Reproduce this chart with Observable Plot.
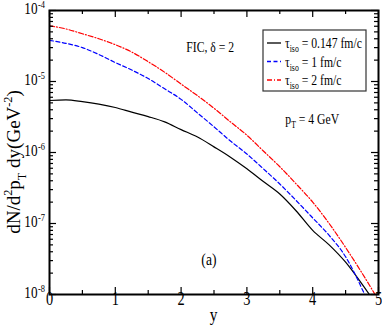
<!DOCTYPE html>
<html><head><meta charset="utf-8">
<script src="https://cdn.jsdelivr.net/npm/d3@7"></script>
<script src="https://cdn.jsdelivr.net/npm/@observablehq/plot@0.6"></script>
<style>body{margin:0;background:#fff}</style>
</head><body><div id="chart"></div>
<script>
// rapidity y
const rapidity = [0,0.25,0.5,0.75,1,1.25,1.5,1.75,2,2.25,2.5,2.75,3,3.25,3.5,3.75,4,4.25,4.5,4.75,5];
// dN/d2pT dy (GeV^-2)
const tau0147 = [5.4e-6,5.5e-6,5.2e-6,4.8e-6,4.3e-6,3.7e-6,3.2e-6,2.7e-6,2.1e-6,1.65e-6,1.2e-6,8.6e-7,5.9e-7,3.9e-7,2.6e-7,1.5e-7,8.0e-8,5.0e-8,2.85e-8,1.4e-8,6.5e-9];
const tau1    = [3.8e-5,3.45e-5,3.0e-5,2.4e-5,1.85e-5,1.45e-5,1.1e-5,7.9e-6,5.6e-6,3.6e-6,2.3e-6,1.45e-6,9.5e-7,5.9e-7,3.6e-7,2.1e-7,1.2e-7,6.8e-8,3.4e-8,1.2e-8,3.5e-9];
const tau2    = [6.1e-5,5.5e-5,4.7e-5,4.0e-5,3.3e-5,2.6e-5,1.9e-5,1.35e-5,9.2e-6,6.3e-6,4.2e-6,2.7e-6,1.75e-6,1.05e-6,6.3e-7,3.6e-7,2.0e-7,1.0e-7,4.6e-8,2.0e-8,8.3e-9];
const seriesLabels = ["0.147 fm/c", "1 fm/c", "2 fm/c"];
const xTicks = [0,1,2,3,4,5];
const xMinor = [0.5,1.5,2.5,3.5,4.5];
const yDecades = [1e-8,1e-7,1e-6,1e-5,1e-4];
const yMinor = yDecades.slice(0,-1).flatMap(d => [2,3,4,5,6,7,8,9].map(k => k*d));

const colors = ["#000000", "#0000ff", "#ff0000"];
const dashes = [null, "4,2.5", "5,2,1,2"];
const series = [tau0147, tau1, tau2];
const rows = series.map(vals => rapidity.map((y, i) => ({y, v: vals[i]})));

const W = 382, H = 327, ML = 49, MR = 4, MT = 10, MB = 33;
const FW = W - ML - MR, FH = H - MT - MB;
const SX = 0.8;

const chart = Plot.plot({
  width: W, height: H, marginLeft: ML, marginRight: MR, marginTop: MT, marginBottom: MB,
  style: {fontFamily: "Liberation Serif", background: "white", color: "black"},
  x: {domain: [0, 5], axis: null},
  y: {type: "log", domain: [1e-8, 1e-4], axis: null},
  marks: [
    ...rows.map((r, i) => Plot.line(r, {x: "y", y: "v", stroke: colors[i], strokeWidth: 1.2,
      strokeDasharray: dashes[i] || undefined, curve: "monotone-x", clip: true})),
    // ticks (inward, all four sides)
    Plot.ruleX(xTicks, {x: d => d, insetTop: FH - 7, strokeWidth: 1.2}),
    Plot.ruleX(xTicks, {x: d => d, insetBottom: FH - 7, strokeWidth: 1.2}),
    Plot.ruleX(xMinor, {x: d => d, insetTop: FH - 4, strokeWidth: 1.2}),
    Plot.ruleX(xMinor, {x: d => d, insetBottom: FH - 4, strokeWidth: 1.2}),
    Plot.ruleY(yDecades, {y: d => d, insetRight: FW - 7, strokeWidth: 1.2}),
    Plot.ruleY(yDecades, {y: d => d, insetLeft: FW - 7, strokeWidth: 1.2}),
    Plot.ruleY(yMinor, {y: d => d, insetRight: FW - 4, strokeWidth: 1.2}),
    Plot.ruleY(yMinor, {y: d => d, insetLeft: FW - 4, strokeWidth: 1.2}),
    Plot.frame({stroke: "black", strokeWidth: 2}),
    // tick labels
    Plot.text(xTicks, {x: d => d, frameAnchor: "bottom", dy: 10, text: d => String(d), fontSize: 18, lineAnchor: "middle"}),
    Plot.text(yDecades, {y: d => d, frameAnchor: "left", dx: -12, dy: 3.5, text: () => "10", fontSize: 16.5, textAnchor: "end", lineAnchor: "middle"}),
    Plot.text(yDecades, {y: d => d, frameAnchor: "left", dx: -11.5, dy: -2.5, text: d => "-" + Math.round(-Math.log10(d)), fontSize: 10.5, textAnchor: "start", lineAnchor: "middle"})
  ]
});

// narrow glyphs like the reference (tick labels)
chart.querySelectorAll("text").forEach(t => {
  const tr = t.getAttribute("transform") || "";
  if (t.hasAttribute("x") || t.hasAttribute("y")) {
    const x = +t.getAttribute("x") || 0, y = +t.getAttribute("y") || 0;
    t.removeAttribute("x"); t.removeAttribute("y");
    t.setAttribute("transform", `${tr} translate(${x},${y}) scale(${SX},1)`);
  } else {
    t.setAttribute("transform", `${tr} scale(${SX},1)`);
  }
});

document.getElementById("chart").appendChild(chart);

// annotations, titles and legend placed with the chart's own scales
const sx = chart.scale("x"), sy = chart.scale("y");
const svg = d3.select(chart);
const ann = svg.append("g").attr("font-family", "Liberation Serif").attr("fill", "black");

function richText(g, x, y, parts, size, scaleX, rotate, anchor = "middle") {
  const t = g.append("text")
    .attr("transform", `translate(${x},${y})${rotate ? ` rotate(${rotate})` : ""} scale(${scaleX},1)`)
    .attr("font-size", size).attr("text-anchor", anchor);
  let shift = 0;
  for (const [s, kind] of parts) {
    let target = 0, fs = size;
    if (kind === "sup") { target = -0.42 * size; fs = 0.65 * size; }
    if (kind === "sub") { target = 0.3 * size; fs = 0.65 * size; }
    t.append("tspan").attr("font-size", fs.toFixed(1)).attr("dy", (target - shift).toFixed(2)).text(s);
    shift = target;
  }
  return t;
}

// axis titles
richText(ann, sx.apply(2.5), 321, [["y", null]], 18, 0.85);
const yTitle = richText(ann, 20, 162, [["dN/d", null], ["2", "sup"], ["p", null], ["T", "sub"], [" dy(GeV", null], ["-2", "sup"], [")", null]], 19, 1, -90);
{
  const natural = yTitle.node().getBBox().width;
  const k = natural > 0 ? Math.min(1, 156 / natural) : 0.78;
  yTitle.attr("transform", `translate(20,162) rotate(-90) scale(${k.toFixed(3)},1)`);
}

// annotations
richText(ann, sx.apply(2.45), sy.apply(2.97e-5) + 5, [["FIC, δ = 2", null]], 15, 0.78);
richText(ann, sx.apply(4.0), sy.apply(2.95e-6) + 5, [["p", null], ["T", "sub"], [" = 4 GeV", null]], 15, 0.78);
richText(ann, sx.apply(2.43), sy.apply(3.0e-8) + 5, [["(a)", null]], 17, 0.8);

// legend
{
  const right = W - MR - 12, left = right - 103, top = MT + 20, h = 61;
  const lg = ann.append("g").attr("aria-label", "legend");
  lg.append("rect").attr("x", left).attr("y", top).attr("width", right - left).attr("height", h)
    .attr("fill", "white").attr("stroke", "#333").attr("stroke-width", 1.2);
  seriesLabels.forEach((lab, i) => {
    const yy = top + 13 + i * 18.5;
    const ln = lg.append("line").attr("x1", left + 4).attr("x2", left + 18).attr("y1", yy).attr("y2", yy)
      .attr("stroke", colors[i]).attr("stroke-width", 1.3);
    if (dashes[i]) ln.attr("stroke-dasharray", dashes[i]);
    const t = lg.append("text").attr("transform", `translate(${left + 22},${yy + 5}) scale(0.78,1)`)
      .attr("font-size", 15).attr("text-anchor", "start");
    t.append("tspan").text("τ");
    t.append("tspan").attr("font-size", 10).attr("dy", 4).text("iso");
    t.append("tspan").attr("dy", -4).text(" = " + lab);
  });
}
</script>
</body></html>
